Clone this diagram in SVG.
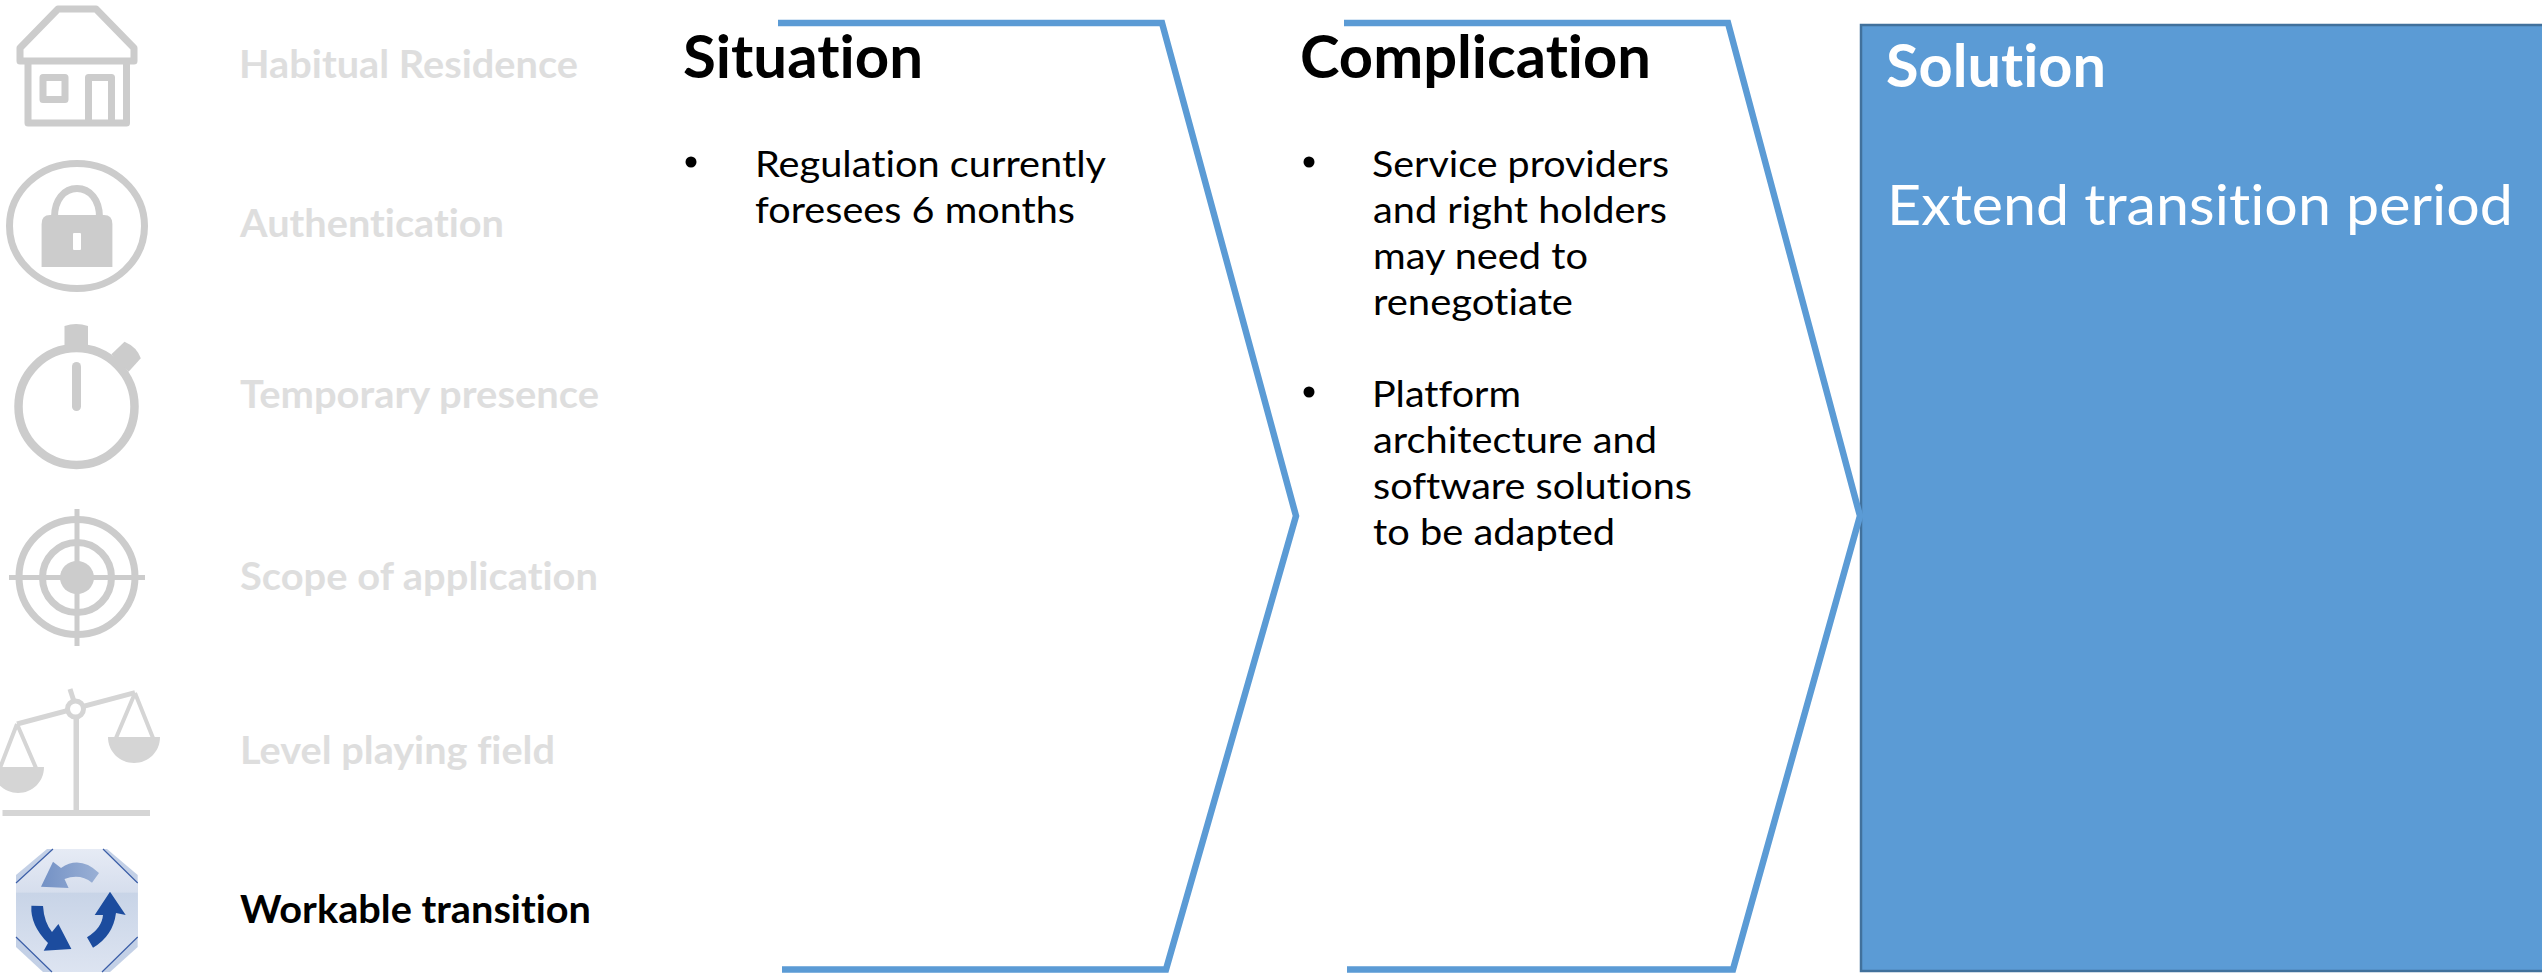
<svg xmlns="http://www.w3.org/2000/svg" width="2542" height="973" viewBox="0 0 2542 973">
<style>
text{font-family:Lato,"Noto Sans",sans-serif;font-variant-ligatures:none;}
.lbl{font-size:39px;font-weight:700;fill:#DEDEDE;}
.act{fill:#000;}
.h{font-size:60px;font-weight:700;fill:#000;}
.b{font-size:37px;fill:#000;}
.w{fill:#fff;}
.chev{fill:none;stroke:#5B9BD5;stroke-width:6.5;}
.ic{fill:none;stroke:#CCCCCC;stroke-width:7;stroke-linejoin:round;}
.if{fill:#CCCCCC;}
.sc{fill:none;stroke:#D5D5D5;stroke-width:5;}
.sf{fill:#D5D5D5;}
</style>
<defs>
<linearGradient id="oct" x1="0" y1="0" x2="0" y2="1"><stop offset="0" stop-color="#E6EBF5"/><stop offset="0.35" stop-color="#D6DEED"/><stop offset="0.36" stop-color="#C8D4E7"/><stop offset="1" stop-color="#DDE4F1"/></linearGradient>
<linearGradient id="topA" x1="0" y1="0" x2="1" y2="0"><stop offset="0" stop-color="#7391C5"/><stop offset="1" stop-color="#9AB0D5"/></linearGradient>
</defs>

<g id="icon-house">
<path class="ic" d="M58 9H96L134 48V61H20V48Z"/>
<path class="ic" d="M28 61V123H126.500V61"/>
<rect class="ic" x="43" y="77.500" width="22" height="22"/>
<path class="ic" d="M88.500 121V77.500H111.500V121"/>
</g>
<g id="icon-lock">
<ellipse class="ic" cx="77" cy="226" rx="67.500" ry="62.500"/>
<path class="ic" d="M54.500 217C54.500 200 64 188.500 77 188.500S99.500 200 99.500 217"/>
<path class="if" d="M41.600 267V224Q41.600 215 50 215H104Q112.400 215 112.400 224V267Z"/>
<rect x="73" y="233" width="8" height="17" rx="1" fill="#fff"/>
</g>
<g id="icon-stopwatch">
<ellipse cx="76.500" cy="406.500" rx="58" ry="58.500" fill="none" stroke="#CCCCCC" stroke-width="8.500"/>
<path class="if" d="M64.500 348V326Q76 322 88 326V348Z"/>
<path class="if" d="M111.400 354.300L124.500 341.700Q137 347 140.800 358.300L128.600 371.700Z"/>
<rect class="if" x="72" y="362" width="9" height="49" rx="4.500"/>
</g>
<g id="icon-target">
<ellipse class="ic" cx="77" cy="577" rx="58" ry="57.500"/>
<ellipse class="ic" cx="77" cy="577.500" rx="34.500" ry="35"/>
<ellipse class="if" cx="77" cy="577.500" rx="17" ry="16.500"/>
<path class="ic" style="stroke-width:5" d="M9 577.500H145M77 509V646"/>
</g>
<g id="icon-scale">
<rect class="sf" x="2.500" y="810" width="147.500" height="6"/>
<rect class="sf" x="73.500" y="715" width="5.500" height="96"/>
<path class="sc" d="M17 724L135 692.700"/>
<path class="sc" d="M70 689L73.500 700"/>
<circle cx="75.500" cy="709" r="8" fill="#fff" stroke="#D5D5D5" stroke-width="5"/>
<path class="sc" style="stroke-width:4" d="M135 693L116 738M135 693L153 738M17 724L0 768M17 724L36 768"/>
<path class="sf" d="M108 737H160C160 752 148 763 134 763S108 752 108 737Z"/>
<path class="sf" d="M-8 767H44C44 782 32 793 18 793S-8 782 -8 767Z"/>
</g>
<g id="icon-cycle">
<path d="M47 849H107L137.700 875V947L110 972H43L16 947V875Z" fill="#C3D0E6"/>
<path d="M53 849H103L137.700 883V937L102 972H52L16 937V883Z" fill="url(#oct)"/>
<path d="M16 883L53 849M103 849L137.700 883M16 937L52 972M137.700 937L102 972" fill="none" stroke="#3C5FA8" stroke-width="1.200"/>
<path d="M53 861.700L41 886.700L68.600 888L64.500 879Q80 873 92 882.700L99 873Q80 855 61 868Z" fill="url(#topA)"/>
<path d="M110 891.700L125.700 915L116 913Q113 936 93 947.700L87 937.300Q102 928 103 915L94.700 915Z" fill="#1C4C9E"/>
<path d="M31.400 905.700L43 906Q44 922 52 932L58.400 924L71.400 949L43.700 950.700L48 943Q30 925 31.400 905.700Z" fill="#1C4C9E"/>
</g>

<g id="labels">
<text class="lbl" x="239" y="78" textLength="339" lengthAdjust="spacingAndGlyphs">Habitual Residence</text>
<text class="lbl" x="240" y="237" textLength="264" lengthAdjust="spacingAndGlyphs">Authentication</text>
<text class="lbl" x="240" y="408" textLength="359" lengthAdjust="spacingAndGlyphs">Temporary presence</text>
<text class="lbl" x="240" y="590" textLength="358" lengthAdjust="spacingAndGlyphs">Scope of application</text>
<text class="lbl" x="240" y="764" textLength="315" lengthAdjust="spacingAndGlyphs">Level playing field</text>
<text class="lbl act" x="240" y="923" textLength="351" lengthAdjust="spacingAndGlyphs">Workable transition</text>
</g>

<g id="solution">
<rect x="1861" y="25" width="690" height="946" fill="#5B9BD5" stroke="#41719C" stroke-width="2.500"/>
<text class="h w" x="1886" y="87" textLength="220" lengthAdjust="spacingAndGlyphs">Solution</text>
<text class="w" style="font-size:57px" x="1887" y="225" textLength="626" lengthAdjust="spacingAndGlyphs">Extend transition period</text>
</g>
<g id="situation">
<path class="chev" d="M778 23H1162L1296 516L1166 969.500H782"/>
<text class="h" x="683" y="78" textLength="240" lengthAdjust="spacingAndGlyphs">Situation</text>
<circle cx="691" cy="162" r="5.500"/>
<text class="b" x="755" y="177" textLength="351" lengthAdjust="spacingAndGlyphs">Regulation currently</text>
<text class="b" x="755" y="223" textLength="320" lengthAdjust="spacingAndGlyphs">foresees 6 months</text>
</g>
<g id="complication">
<path class="chev" d="M1344 23H1728L1860 516L1733 969.500H1347"/>
<text class="h" x="1300" y="78" textLength="351" lengthAdjust="spacingAndGlyphs">Complication</text>
<circle cx="1309" cy="162" r="5.500"/>
<text class="b" x="1372" y="177" textLength="297" lengthAdjust="spacingAndGlyphs">Service providers</text>
<text class="b" x="1373" y="223" textLength="294" lengthAdjust="spacingAndGlyphs">and right holders</text>
<text class="b" x="1373" y="269" textLength="215" lengthAdjust="spacingAndGlyphs">may need to</text>
<text class="b" x="1373" y="315" textLength="200" lengthAdjust="spacingAndGlyphs">renegotiate</text>
<circle cx="1309" cy="392" r="5.500"/>
<text class="b" x="1372" y="407" textLength="149" lengthAdjust="spacingAndGlyphs">Platform</text>
<text class="b" x="1373" y="453" textLength="284" lengthAdjust="spacingAndGlyphs">architecture and</text>
<text class="b" x="1373" y="499" textLength="319" lengthAdjust="spacingAndGlyphs">software solutions</text>
<text class="b" x="1373" y="545" textLength="242" lengthAdjust="spacingAndGlyphs">to be adapted</text>
</g>
</svg>
